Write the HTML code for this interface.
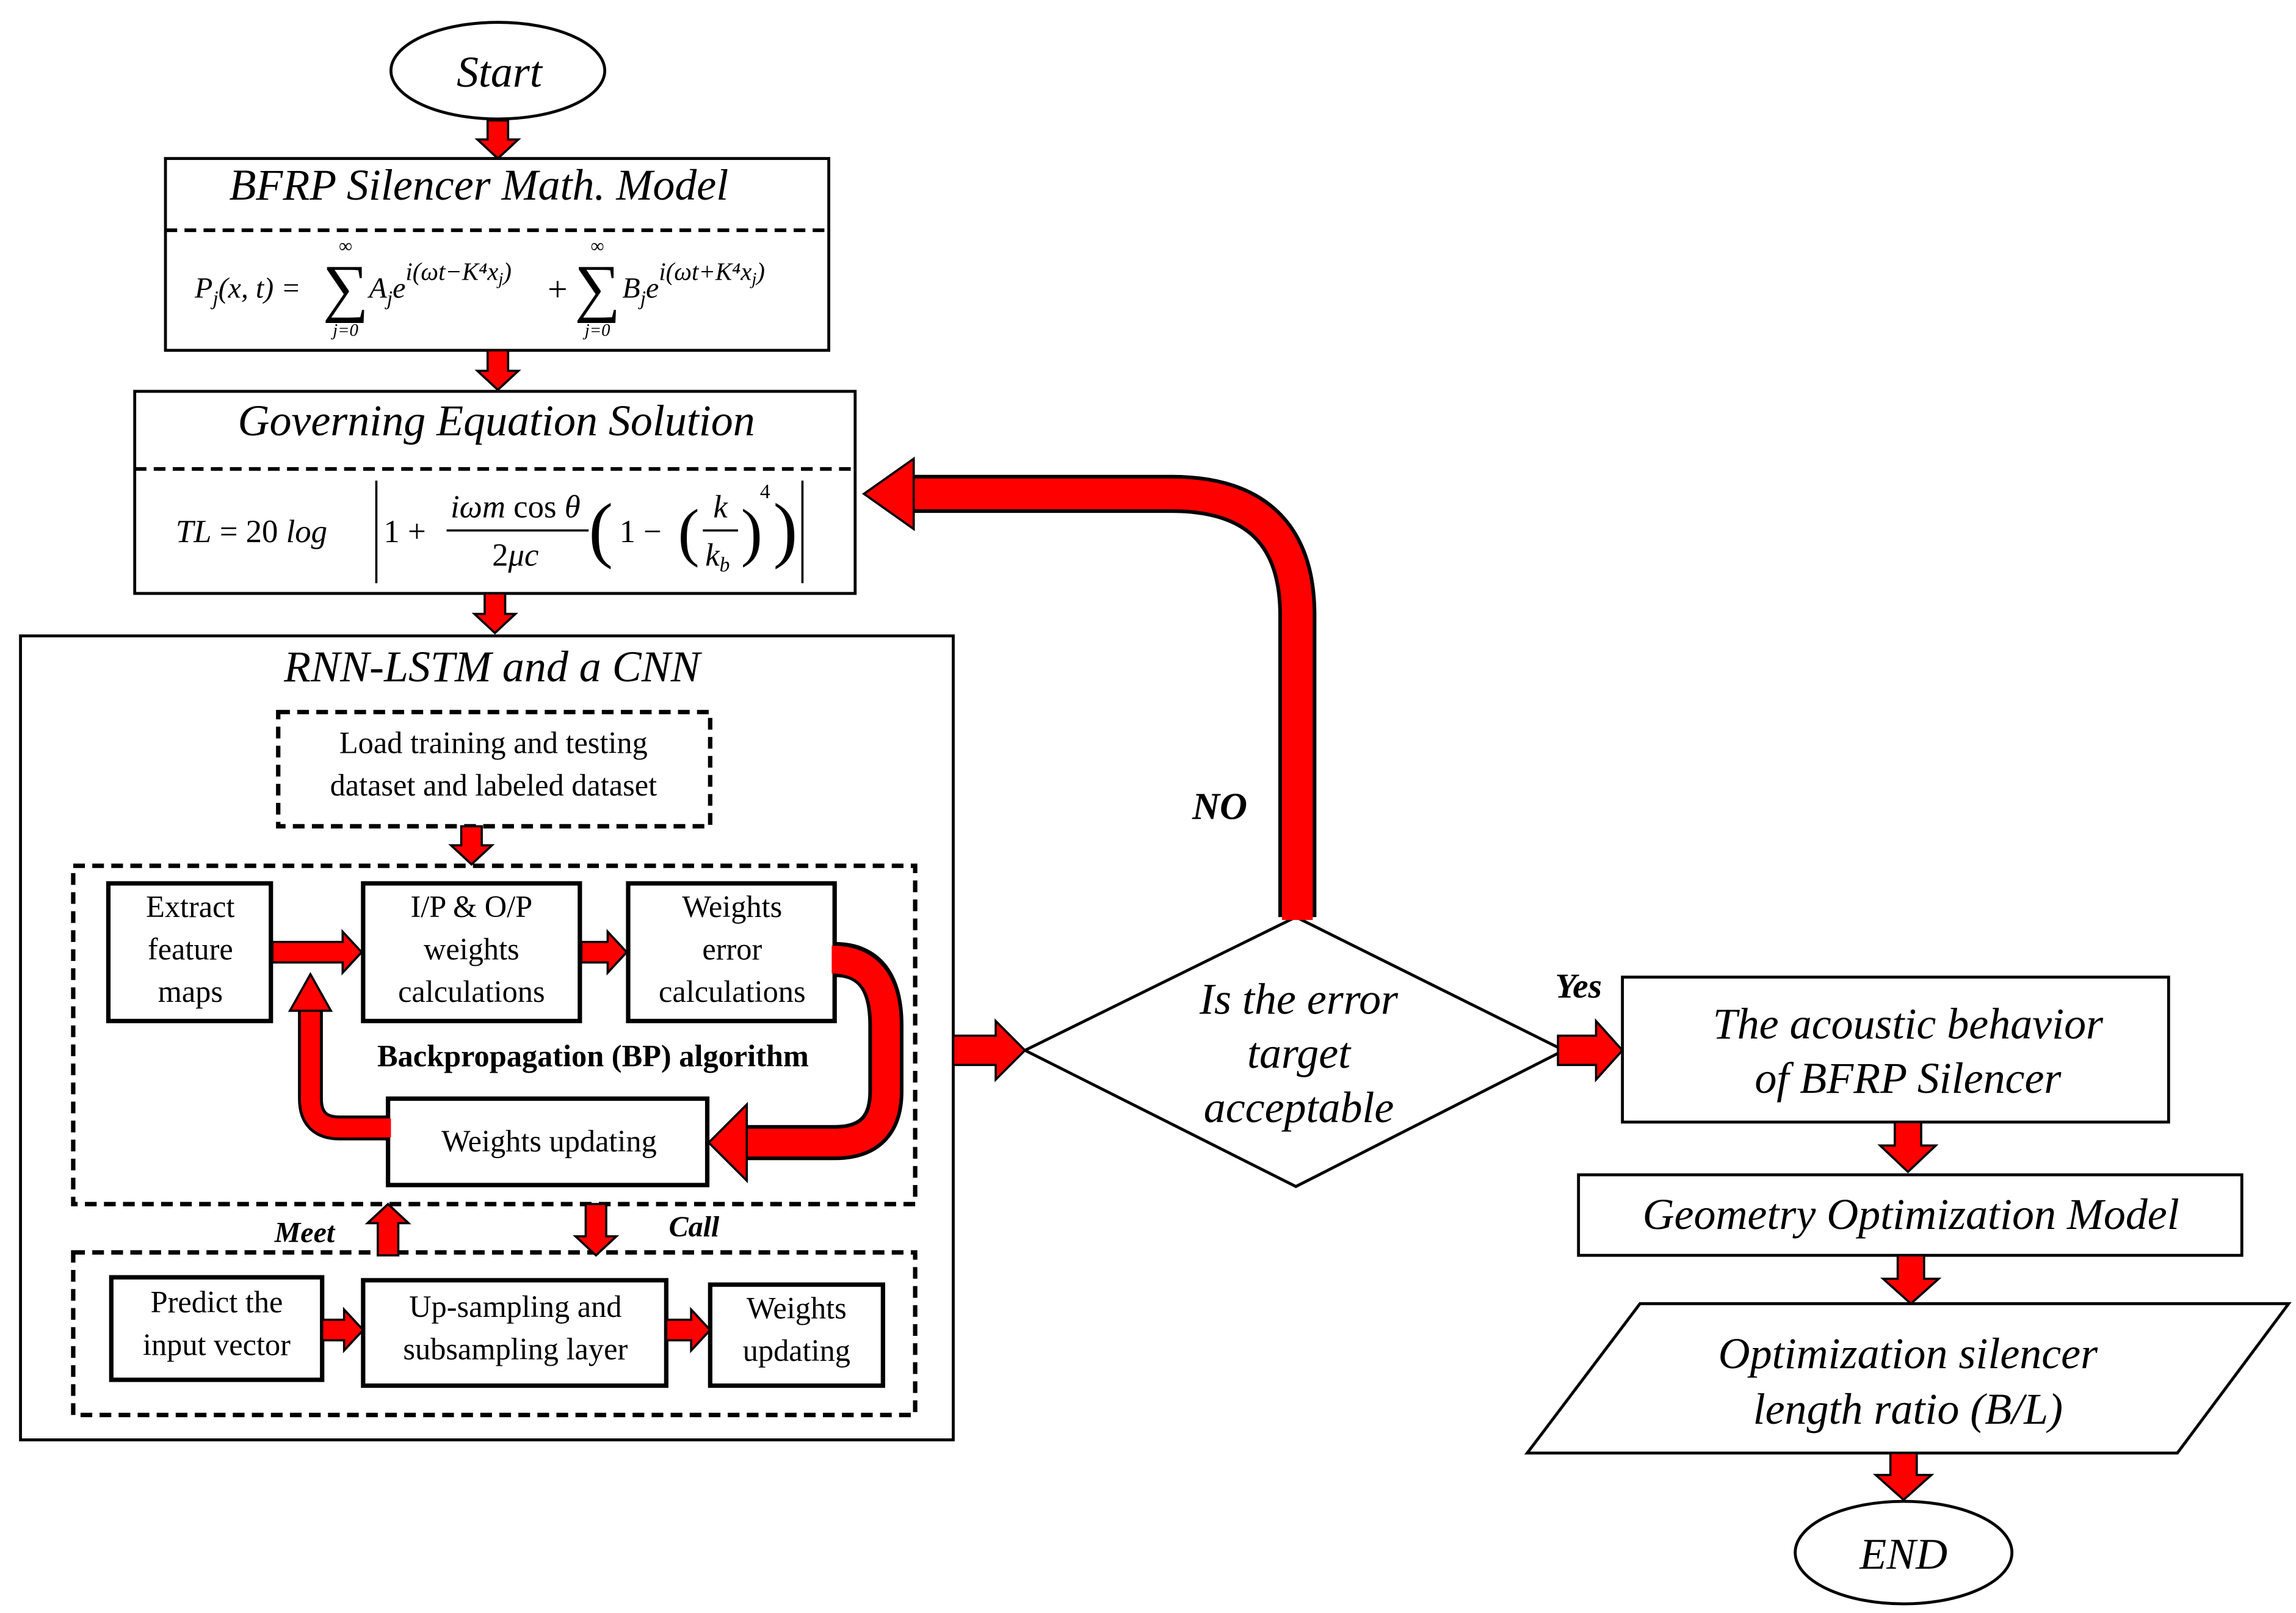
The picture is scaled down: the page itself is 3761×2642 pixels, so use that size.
<!DOCTYPE html>
<html><head><meta charset="utf-8"><style>html,body{margin:0;padding:0;background:#fff}svg{display:block}</style></head>
<body>
<svg width="3761" height="2642" viewBox="0 0 1568 1101" xmlns="http://www.w3.org/2000/svg" font-family="'Liberation Serif', serif">
<rect width="1568" height="1101" fill="#fff"/>
<g fill="none" stroke="#000" stroke-width="2">
<ellipse cx="340" cy="48" rx="73" ry="33"/>
<rect x="113" y="108" width="453" height="131"/>
<rect x="92" y="267" width="492" height="138"/>
<rect x="14" y="434" width="637" height="549"/>
<rect x="74" y="603" width="111" height="94" stroke-width="3"/>
<rect x="248" y="603" width="148" height="94" stroke-width="3"/>
<rect x="429" y="603" width="141" height="94" stroke-width="3"/>
<rect x="265" y="750" width="218" height="59" stroke-width="3"/>
<rect x="76" y="872" width="144" height="70" stroke-width="3"/>
<rect x="248" y="874" width="207" height="72" stroke-width="3"/>
<rect x="485" y="877" width="118" height="69" stroke-width="3"/>
<polygon points="700,717 885,626 1068,717 885,810"/>
<rect x="1108" y="667" width="373" height="99"/>
<rect x="1078" y="802" width="453" height="55"/>
<polygon points="1120,890 1563,890 1487,992 1043,992"/>
<ellipse cx="1300" cy="1060" rx="74" ry="35"/>
</g>
<g fill="none" stroke="#000" stroke-width="2.5" stroke-dasharray="8,5">
<line x1="113" y1="157" x2="566" y2="157"/>
<line x1="92" y1="320" x2="584" y2="320"/>
<rect x="190" y="486" width="295" height="78" stroke-width="3"/>
<rect x="50" y="591" width="575" height="231" stroke-width="3"/>
<rect x="50" y="855" width="575" height="111" stroke-width="3"/>
</g>
<g fill="none" stroke-linejoin="round">
<path d="M886,626 V420 Q886,337 800,337 H622" stroke="#000" stroke-width="26"/>
<path d="M886,628 V420 Q886,337 800,337 H620" stroke="#f00" stroke-width="21"/>
<path d="M570,655 Q605,655 605,700 V745 Q605,780 570,780 H508" stroke="#000" stroke-width="24"/>
<path d="M568,655 Q605,655 605,700 V745 Q605,780 570,780 H506" stroke="#f00" stroke-width="19"/>
<path d="M265,770 H232 Q212,770 212,750 V688" stroke="#000" stroke-width="17"/>
<path d="M267,770 H232 Q212,770 212,750 V686" stroke="#f00" stroke-width="13"/>
</g>
<g fill="#f00" stroke="#000" stroke-width="1.5" stroke-linejoin="miter">
<polygon points="624,313 624,361 590,337"/>
<polygon points="510,754 510,806 484,780"/>
<polygon points="198,690 226,690 212,665"/>
<polygon points="333,82 347,82 347,95 354,95 340,108 326,95 333,95"/>
<polygon points="333,239 347,239 347,253 354,253 340,266 326,253 333,253"/>
<polygon points="331,405 345,405 345,419 352,419 338,432 324,419 331,419"/>
<polygon points="315,564 329,564 329,577 336,577 322,590 308,577 315,577"/>
<polygon points="186,643 234,643 234,636 247,650 234,664 234,657 186,657"/>
<polygon points="397,643 415,643 415,636 428,650 415,664 415,657 397,657"/>
<polygon points="258,857 272,857 272,835 279,835 265,822 251,835 258,835"/>
<polygon points="400,822 414,822 414,844 421,844 407,857 393,844 400,844"/>
<polygon points="220,901 235,901 235,894 248,908 235,922 235,915 220,915"/>
<polygon points="455,901 472,901 472,894 485,908 472,922 472,915 455,915"/>
<polygon points="651,707 680,707 680,697 700,717 680,737 680,727 651,727"/>
<polygon points="1064,707 1090,707 1090,697 1108,717 1090,737 1090,727 1064,727"/>
<polygon points="1294,766 1312,766 1312,782 1322,782 1303,800 1284,782 1294,782"/>
<polygon points="1296,857 1314,857 1314,873 1324,873 1305,890 1286,873 1296,873"/>
<polygon points="1291,992 1309,992 1309,1007 1319,1007 1300,1024 1281,1007 1291,1007"/>
</g>
<g fill="#000" text-anchor="middle">
<g font-style="italic" font-size="30">
<text x="341" y="59">Start</text>
<text x="327" y="136">BFRP Silencer Math. Model</text>
<text x="339" y="297">Governing Equation Solution</text>
<text x="336" y="465">RNN-LSTM and a CNN</text>
<text x="887" y="692">Is the error</text>
<text x="887" y="729">target</text>
<text x="887" y="766">acceptable</text>
<text x="1303" y="709">The acoustic behavior</text>
<text x="1303" y="746">of BFRP Silencer</text>
<text x="1305" y="839">Geometry Optimization Model</text>
<text x="1303" y="934">Optimization silencer</text>
<text x="1303" y="972">length ratio (B/L)</text>
<text x="1300" y="1071">END</text>
</g>
<g font-style="italic" font-weight="bold">
<text x="833" y="559" font-size="26">NO</text>
<text x="1078" y="681" font-size="24">Yes</text>
<text x="208" y="848" font-size="20">Meet</text>
<text x="474" y="844" font-size="20">Call</text>
</g>
<g font-size="21">
<text x="337" y="514">Load training and testing</text>
<text x="337" y="543">dataset and labeled dataset</text>
<text x="130" y="626">Extract</text><text x="130" y="655">feature</text><text x="130" y="684">maps</text>
<text x="322" y="626">I/P &amp; O/P</text><text x="322" y="655">weights</text><text x="322" y="684">calculations</text>
<text x="500" y="626">Weights</text><text x="500" y="655">error</text><text x="500" y="684">calculations</text>
<text x="375" y="786">Weights updating</text>
<text x="148" y="896">Predict the</text><text x="148" y="925">input vector</text>
<text x="352" y="899">Up-sampling and</text><text x="352" y="928">subsampling layer</text>
<text x="544" y="900">Weights</text><text x="544" y="929">updating</text>
</g>
<text x="405" y="728" font-size="21" font-weight="bold">Backpropagation (BP) algorithm</text>
</g>
<g fill="#000" font-style="italic" font-size="20">
<text x="133" y="203">P<tspan font-size="14" dy="5">j</tspan><tspan dy="-5">(x, t) =</tspan></text>
<text x="236" y="211" font-style="normal" font-size="44" text-anchor="middle">∑</text>
<text x="236" y="172" font-size="13" text-anchor="middle" font-style="normal">∞</text>
<text x="236" y="229" font-size="12" text-anchor="middle">j=0</text>
<text x="252" y="203">A<tspan font-size="14" dy="5">j</tspan><tspan dy="-5">e</tspan><tspan font-size="17" dy="-12">i(ωt−K⁴x</tspan><tspan font-size="12" dy="3">j</tspan><tspan font-size="17" dy="-3">)</tspan></text>
<text x="374" y="205" font-style="normal" font-size="24">+</text>
<text x="408" y="211" font-style="normal" font-size="44" text-anchor="middle">∑</text>
<text x="408" y="172" font-size="13" text-anchor="middle" font-style="normal">∞</text>
<text x="408" y="229" font-size="12" text-anchor="middle">j=0</text>
<text x="425" y="203">B<tspan font-size="14" dy="5">j</tspan><tspan dy="-5">e</tspan><tspan font-size="17" dy="-12">i(ωt+K⁴x</tspan><tspan font-size="12" dy="3">j</tspan><tspan font-size="17" dy="-3">)</tspan></text>
</g>
<g fill="#000" font-size="22">
<text x="120" y="370"><tspan font-style="italic">TL</tspan> = 20 <tspan font-style="italic">log</tspan></text>
<line x1="257" y1="328" x2="257" y2="398" stroke="#000" stroke-width="1.5"/>
<text x="262" y="370">1 +</text>
<text x="352" y="353" text-anchor="middle"><tspan font-style="italic">iωm</tspan> cos <tspan font-style="italic">θ</tspan></text>
<line x1="305" y1="362" x2="402" y2="362" stroke="#000" stroke-width="1.5"/>
<text x="352" y="386" text-anchor="middle">2<tspan font-style="italic">μc</tspan></text>
<text x="402" y="378" font-size="50">(</text>
<text x="423" y="370">1 −</text>
<text x="463" y="378" font-size="44">(</text>
<text x="492" y="353" text-anchor="middle" font-style="italic">k</text>
<line x1="480" y1="362" x2="504" y2="362" stroke="#000" stroke-width="1.5"/>
<text x="490" y="386" text-anchor="middle" font-style="italic">k<tspan font-size="14" dy="4">b</tspan></text>
<text x="506" y="378" font-size="44">)</text>
<text x="519" y="340" font-size="14">4</text>
<text x="528" y="378" font-size="50">)</text>
<line x1="548" y1="328" x2="548" y2="398" stroke="#000" stroke-width="1.5"/>
</g>
</svg>
</body></html>
